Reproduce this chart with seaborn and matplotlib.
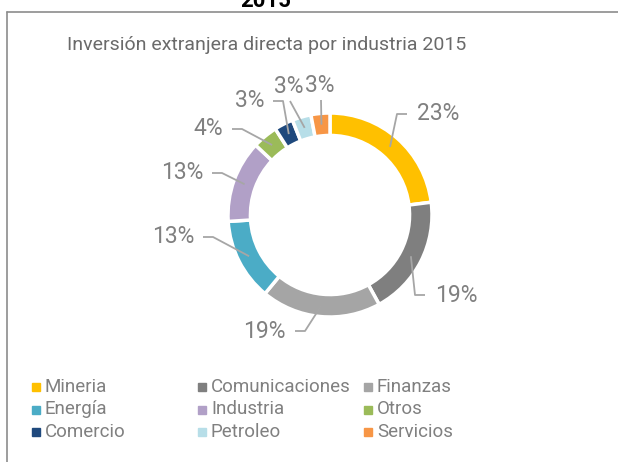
import matplotlib
matplotlib.use('Agg')
import matplotlib.pyplot as plt
from matplotlib.lines import Line2D
import numpy as np
import seaborn as sns

# data
sectors = ['Mineria', 'Comunicaciones', 'Finanzas', 'Energía', 'Industria',
           'Otros', 'Comercio', 'Petroleo', 'Servicios']
shares = [23, 19, 19, 13, 13, 4, 3, 3, 3]
title = 'Inversión extranjera directa por industria 2015'
header = '2015'

colors = ['#FFC000', '#7F7F7F', '#A5A5A5', '#4BACC6', '#B1A0C7',
          '#9BBB59', '#1F497D', '#B7DEE8', '#F79646']

sns.set_theme(style='white')
plt.rcParams['font.family'] = ['Roboto', 'DejaVu Sans']

W, H = 618, 462
R = 102          # outer radius in px
cx, cy = 330, 215  # donut centre in px (from top-left)

fig = plt.figure(figsize=(W / 100, H / 100), dpi=100)
ax = fig.add_axes([0, 0, 1, 1])
wedges, _ = ax.pie(shares, colors=sns.color_palette(colors), radius=1, startangle=90,
                   counterclock=False,
                   wedgeprops=dict(width=0.22, edgecolor='white', linewidth=2.5))
ax.set_xlim(-cx / R, (W - cx) / R)
ax.set_ylim(-(H - cy) / R, cy / R)
ax.set_aspect('equal')
ax.axis('off')

def to_data(px, py):
    return (px - cx) / R, (cy - py) / R

# label placement (px): text edge x, text centre y, side of the leader line
label_pos = [(417, 114, 'L'), (435, 295, 'L'), (286, 331, 'R'), (194, 237, 'R'),
             (203, 173, 'R'), (223, 129, 'R'), (264, 101, 'R'), (289, 87, 'B'), (320, 86, 'B')]

lab_kw = dict(va='center', fontsize=16.5, color='#808080')
total = sum(shares)
start = 90.0
for val, (lx, ly, side) in zip(shares, label_pos):
    mid = start - 360 * val / total / 2
    start -= 360 * val / total
    ax_, ay_ = 0.89 * np.cos(np.radians(mid)), 0.89 * np.sin(np.radians(mid))
    tx, ty = to_data(lx, ly)
    txt = f'{val / total:.0%}'
    if side == 'L':
        ax.text(tx, ty, txt, ha='left', **lab_kw)
        pts = [to_data(lx - 10, ly), to_data(lx - 20, ly), (ax_, ay_)]
    elif side == 'R':
        ax.text(tx, ty, txt, ha='right', **lab_kw)
        pts = [to_data(lx + 9, ly), to_data(lx + 19, ly), (ax_, ay_)]
    else:
        ax.text(tx, ty, txt, ha='center', **lab_kw)
        pts = [to_data(lx + 1, ly + 14), (ax_, ay_)]
    xs, ys = zip(*pts)
    ax.plot(xs, ys, color='#A6A6A6', lw=1.3, solid_capstyle='butt')

# title and clipped header
fig.text(267 / W, 1 - 45 / H, title, ha='center', va='center', fontsize=14, color='#6A6A6A')
fig.text(266 / W, 1 - 7 / H, header, ha='center', va='baseline', fontsize=16,
         fontweight='bold', color='black')

# frame lines
fig.add_artist(Line2D([7 / W, 1], [1 - 12 / H, 1 - 12 / H], color='#8C8C8C', lw=1.2,
                      transform=fig.transFigure))
fig.add_artist(Line2D([7 / W, 7 / W], [1 - 12 / H, 0], color='#8C8C8C', lw=1.2,
                      transform=fig.transFigure))

# legend, row-major, 3 columns
for i, (name, c) in enumerate(zip(sectors, colors)):
    row, col = divmod(i, 3)
    mx = 36 + col * 166
    my = 387 + row * 22.5
    fig.add_artist(Line2D([mx / W], [1 - my / H], marker='s', markersize=5.5, color=c,
                          lw=0, transform=fig.transFigure))
    fig.text((mx + 9) / W, 1 - my / H, name, ha='left', va='center', fontsize=13.5,
             color='#808080')

fig.savefig('out.png', dpi=100)
